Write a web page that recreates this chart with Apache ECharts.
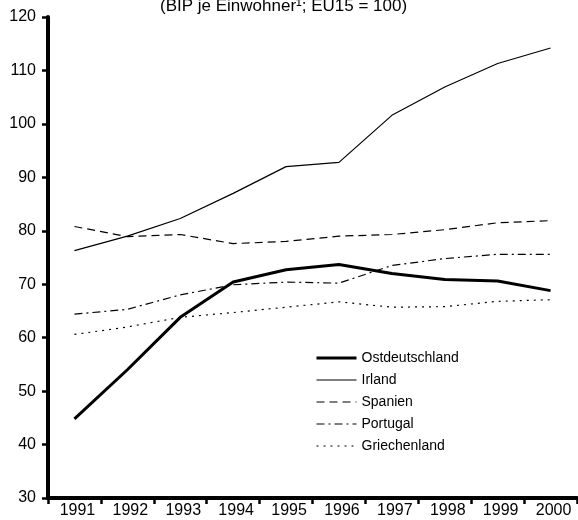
<!DOCTYPE html>
<html>
<head>
<meta charset="utf-8">
<script src="https://cdn.jsdelivr.net/npm/echarts@6/dist/echarts.min.js"></script>
<style>
	html, body { margin: 0; padding: 0; background: #fff; }
	#chart { width: 578px; height: 520px; }
</style>
</head>
<body>
<div id="chart"></div>
<script>
// Jahre
var years = [ "1991", "1992", "1993", "1994", "1995", "1996", "1997", "1998", "1999", "2000" ];
// BIP je Einwohner, EU15 = 100
var ostdeutschland = [ 44.8, 54.0, 63.8, 70.4, 72.7, 73.7, 72.0, 70.9, 70.6, 68.8 ];
var irland = [ 76.3, 79.0, 82.3, 87.0, 92.0, 92.8, 101.6, 106.9, 111.3, 114.2 ];
var spanien = [ 80.8, 78.9, 79.3, 77.6, 78.0, 79.0, 79.3, 80.2, 81.5, 81.9 ];
var portugal = [ 64.4, 65.3, 68.0, 69.9, 70.4, 70.2, 73.5, 74.8, 75.6, 75.6 ];
var griechenland = [ 60.6, 62.0, 63.8, 64.7, 65.7, 66.7, 65.7, 65.8, 66.8, 67.1 ];

var font = "'Liberation Sans', Arial, sans-serif";
var chart = echarts.init(document.getElementById("chart"));

// Linienstile
var styles = {
	'Ostdeutschland' : { width : 3, type : 'solid' },
	'Irland' : { width : 1.2, type : 'solid' },
	'Spanien' : { width : 1.2, type : [ 8, 5 ] },
	'Portugal' : { width : 1.2, type : [ 8, 4, 2, 4 ] },
	'Griechenland' : { width : 1.2, type : [ 2, 5 ] }
};

function line(name, data) {
	return {
		name : name,
		type : 'line',
		symbol : 'none',
		data : data,
		lineStyle : {
			color : '#000',
			width : styles[name].width,
			type : styles[name].type
		},
		itemStyle : {
			color : '#000'
		}
	};
}

function legendItem(name) {
	return {
		name : name,
		itemStyle : {
			opacity : 0
		},
		lineStyle : {
			color : '#000',
			width : styles[name].width,
			type : styles[name].type
		}
	};
}

chart.setOption({
	animation : false,
	title : {
		text : '(BIP je Einwohner¹; EU15 = 100)',
		left : 155,
		top : -7,
		textStyle : {
			fontFamily : font,
			fontSize : 17,
			fontWeight : 'normal',
			color : '#000'
		}
	},
	legend : {
		orient : 'vertical',
		left : 310,
		top : 346,
		itemWidth : 40,
		itemHeight : 14,
		itemGap : 8,
		itemStyle : {
			opacity : 0
		},
		textStyle : {
			fontFamily : font,
			fontSize : 14,
			color : '#000'
		},
		data : [ legendItem('Ostdeutschland'), legendItem('Irland'), legendItem('Spanien'), legendItem('Portugal'), legendItem('Griechenland') ]
	},
	grid : {
		left : 48,
		right : 1,
		top : 17,
		bottom : 22
	},
	xAxis : {
		type : 'category',
		boundaryGap : true,
		data : years,
		axisLine : {
			lineStyle : {
				color : '#000',
				width : 4
			}
		},
		axisTick : {
			show : true,
			length : 6,
			lineStyle : {
				color : '#000',
				width : 2.5
			}
		},
		axisLabel : {
			fontFamily : font,
			fontSize : 16,
			color : '#000',
			margin : 5,
			padding : [ 0, 0, 0, 6 ]
		},
		splitLine : {
			show : false
		}
	},
	yAxis : {
		type : 'value',
		min : 30,
		max : 120,
		interval : 10,
		axisLine : {
			show : true,
			lineStyle : {
				color : '#000',
				width : 4
			}
		},
		axisTick : {
			show : true,
			length : 6,
			lineStyle : {
				color : '#000',
				width : 2.5
			}
		},
		axisLabel : {
			fontFamily : font,
			fontSize : 16,
			color : '#000',
			margin : 12
		},
		splitLine : {
			show : false
		}
	},
	series : [
		line('Ostdeutschland', ostdeutschland),
		line('Irland', irland),
		line('Spanien', spanien),
		line('Portugal', portugal),
		line('Griechenland', griechenland)
	]
});
</script>
</body>
</html>
